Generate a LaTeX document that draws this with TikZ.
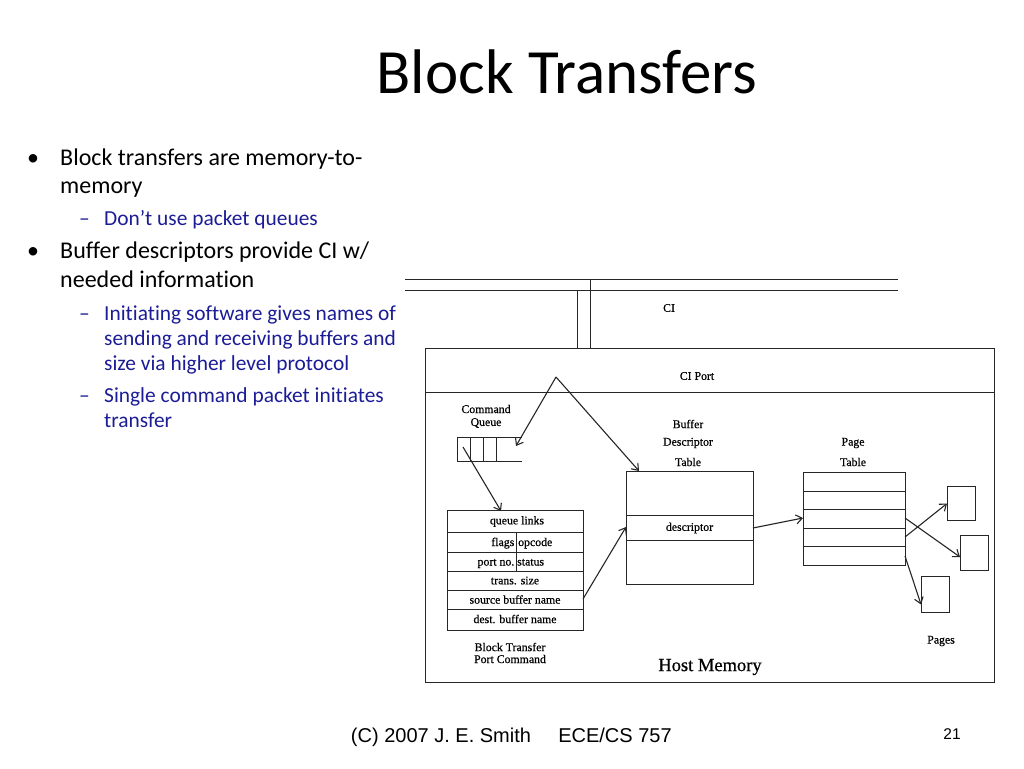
\documentclass[tikz,border=0pt]{standalone}
\usepackage{fontspec}
\setmainfont{Carlito}[Ligatures={NoCommon}]
\newfontfamily\serf{Liberation Serif}[FakeBold=0.6]
\newfontfamily\arialf{Liberation Sans}
\usetikzlibrary{arrows.meta}
\definecolor{subblue}{RGB}{28,28,150}
\begin{document}
\begin{tikzpicture}[x=1pt,y=-1pt,
  maintext/.style={anchor=base west,inner sep=0pt,font=\fontsize{24}{24}\selectfont},
  subtext/.style={anchor=base west,inner sep=0pt,text=subblue,font=\fontsize{21.4}{21.4}\selectfont},
  dlabel/.style={inner sep=0pt,font=\serf\fontsize{11.8}{11.8}\selectfont},
  foot/.style={anchor=base,inner sep=0pt,font=\arialf\fontsize{20}{20}\selectfont},
  ln/.style={line width=1pt,draw=black!85},
  arr/.style={line width=1.1pt,draw=black!85,-{Straight Barb[length=6pt,width=9pt]}},
  box/.style={ln,inner sep=0pt,anchor=north west}]
\useasboundingbox (0,0) rectangle (1024,768);

% title
\node[anchor=base,inner sep=0pt,font=\fontsize{63}{63}\selectfont] (title) at (567,93) {Block Transfers};

% bullets
\node[maintext] (d1) at (27,165) {•};
\node[maintext] (b1) at (60,165) {Block transfers are memory-to-};
\node[maintext] (b1b) at (60,193) {memory};
\node[subtext] (s1d) at (79,225) {–};
\node[subtext] (s1) at (104,225) {Don’t use packet queues};
\node[maintext] (d2) at (27,258) {•};
\node[maintext] (b2) at (60,258) {Buffer descriptors provide CI w/};
\node[maintext] (b2b) at (60,287) {needed information};
\node[subtext] (s2d) at (79,320) {–};
\node[subtext] (s2) at (104,320) {Initiating software gives names of};
\node[subtext] (s2b) at (104,345) {sending and receiving buffers and};
\node[subtext] (s2c) at (104,370) {size via higher level protocol};
\node[subtext] (s3d) at (79,402) {–};
\node[subtext] (s3) at (104,402) {Single command packet initiates};
\node[subtext] (s3b) at (104,427) {transfer};

% bus
\coordinate (busA1) at (405,279); \coordinate (busA2) at (898,279);
\coordinate (busB1) at (405,290); \coordinate (busB2) at (898,290);
\draw[ln] (busA1) -- (busA2);
\draw[ln] (busB1) -- (busB2);
\draw[ln] (590,279) -- (590,348);
\draw[ln] (577,290) -- (577,348);
\node[dlabel] (ci) at (669,308) {CI};

% host memory box
\node[box,minimum width=569pt,minimum height=334pt] (host) at (425,348) {};
\draw[ln] (425,392) -- (994,392);
\node[dlabel] (ciport) at (697,376) {CI Port};
\node[inner sep=0pt,font=\serf\fontsize{18.5}{18.5}\selectfont] (hm) at (710,667) {Host Memory};

% command queue
\node[dlabel] (cql1) at (486,409) {Command};
\node[dlabel] (cql2) at (486,423) {Queue};
\draw[ln] (522,437) -- (457,437) -- (457,461) -- (522,461);
\foreach \x in {470,483,496} \draw[ln] (\x,437) -- (\x,461);

% block transfer port command
\node[box,minimum width=136pt,minimum height=120pt] (btc) at (447,510) {};
\foreach \y in {532,552,571,590,609} \draw[ln] (447,\y) -- (583,\y);
\draw[ln] (516,532) -- (516,571);
\node[dlabel] (r1) at (517,521.5) {queue links};
\node[dlabel,anchor=base east] (r2a) at (514.5,546) {flags};
\node[dlabel,anchor=base west] (r2b) at (518,546) {opcode};
\node[dlabel,anchor=base east] (r3a) at (514.5,565.5) {port no.};
\node[dlabel,anchor=base west] (r3b) at (517,565.5) {status};
\node[dlabel] (r4) at (515,580.5) {trans. size};
\node[dlabel] (r5) at (515,599.5) {source buffer name};
\node[dlabel] (r6) at (515,619) {dest. buffer name};
\node[dlabel] (btl1) at (510,647) {Block Transfer};
\node[dlabel] (btl2) at (510,659) {Port Command};

% buffer descriptor table
\node[dlabel] (bdt1) at (688,424) {Buffer};
\node[dlabel] (bdt2) at (688,443) {Descriptor};
\node[dlabel] (bdt3) at (688,462) {Table};
\node[box,minimum width=127pt,minimum height=113pt] (bdt) at (626,471) {};
\draw[ln] (626,515) -- (753,515);
\draw[ln] (626,540) -- (753,540);
\node[dlabel] (desc) at (689.5,528) {descriptor};

% page table
\node[dlabel] (pt1) at (853,443) {Page};
\node[dlabel] (pt2) at (853,462) {Table};
\node[box,minimum width=102pt,minimum height=93pt] (pt) at (803,472) {};
\foreach \y in {491,509.5,528,546.5} \draw[ln] (803,\y) -- (905,\y);

% pages
\node[box,minimum width=28pt,minimum height=34pt] (pg1) at (947,486) {};
\node[box,minimum width=28pt,minimum height=35pt] (pg2) at (960,535) {};
\node[box,minimum width=28pt,minimum height=36pt] (pg3) at (921,576) {};
\node[dlabel] (pages) at (941,641) {Pages};

% arrows
\coordinate (peak) at (556,377);
\coordinate (qin) at (516,446);
\coordinate (qslot) at (463,447);
\coordinate (bdttop) at (639,471);
\coordinate (btctop) at (501,511);
\coordinate (srcout) at (583,599);
\coordinate (descin) at (626,527);
\coordinate (descout) at (753,528);
\coordinate (ptin) at (803,518);
\draw[arr] (peak) -- (qin);
\draw[arr] (peak) -- (bdttop);
\draw[arr] (qslot) -- (btctop);
\draw[arr] (srcout) -- (descin);
\draw[arr] (descout) -- (ptin);
\draw[arr] (905,537) -- (pg1.west);
\draw[arr] (905,518) -- ([yshift=-4pt]pg2.west);
\draw[arr] (905,556) -- ([yshift=-10pt]pg3.west);

% footer
\node[foot] (f1) at (441,742) {(C) 2007 J. E. Smith};
\node[foot] (f2) at (615,742) {ECE/CS 757};
\node[anchor=base,inner sep=0pt,font=\arialf\fontsize{15.5}{15.5}\selectfont] (f3) at (952,739) {21};
\end{tikzpicture}
\end{document}
